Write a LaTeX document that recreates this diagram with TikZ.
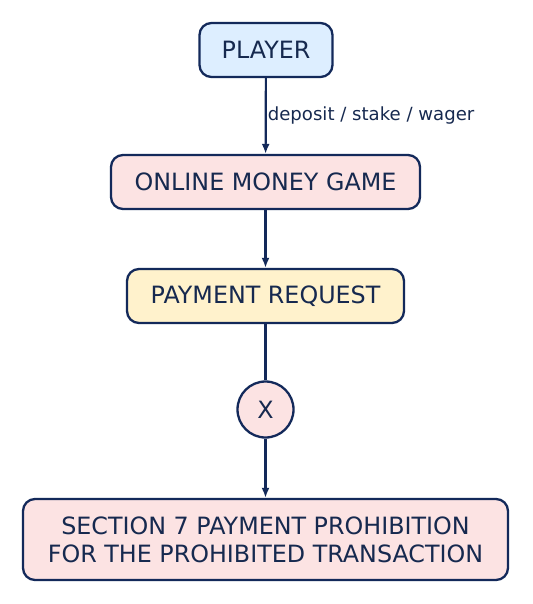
\documentclass[tikz,border=0pt]{standalone}
\usepackage{fontspec}
\setmainfont{DejaVu Sans}
\usetikzlibrary{arrows.meta}
\definecolor{navy}{HTML}{13295A}
\definecolor{txt}{HTML}{16294F}
\definecolor{fblue}{HTML}{DDEEFF}
\definecolor{fpink}{HTML}{FCE3E3}
\definecolor{fyellow}{HTML}{FFF2CC}
\tikzset{
  box/.style={draw=navy, line width=2.3pt, rounded corners=12pt, text=txt, align=center,
    inner sep=0pt, font=\fontsize{23.8}{28}\selectfont},
  conn/.style={draw=navy, line width=2.2pt},
  arr/.style={conn, -{Latex[length=10pt,width=8pt]}},
  lbl/.style={text=txt, font=\fontsize{18.1}{20}\selectfont, inner sep=0pt}
}
\begin{document}
\begin{tikzpicture}[x=1pt,y=-1pt]
\useasboundingbox (0,0) rectangle (532,604);
\node[box, fill=fblue, minimum width=133pt, minimum height=54pt] (player) at (266,50) {PLAYER};
\node[box, fill=fpink, minimum width=309pt, minimum height=54pt] (game) at (265.5,182) {ONLINE MONEY GAME};
\node[box, fill=fyellow, minimum width=277pt, minimum height=54pt] (req) at (265.5,296) {PAYMENT REQUEST};
\node[box, fill=fpink, circle, rounded corners=0pt, minimum size=56pt] (x) at (265.5,409.5) {X};
\node[box, fill=fpink, minimum width=485pt, minimum height=81pt] (sec) at (265.5,539.5) {SECTION 7 PAYMENT PROHIBITION\\FOR THE PROHIBITED TRANSACTION};
\draw[arr] (player) -- node[lbl, anchor=west, xshift=1pt] {deposit / stake / wager} (game);
\draw[arr] (game) -- (req);
\draw[conn] (req) -- (x);
\draw[arr] (x) -- (sec);
\end{tikzpicture}
\end{document}
